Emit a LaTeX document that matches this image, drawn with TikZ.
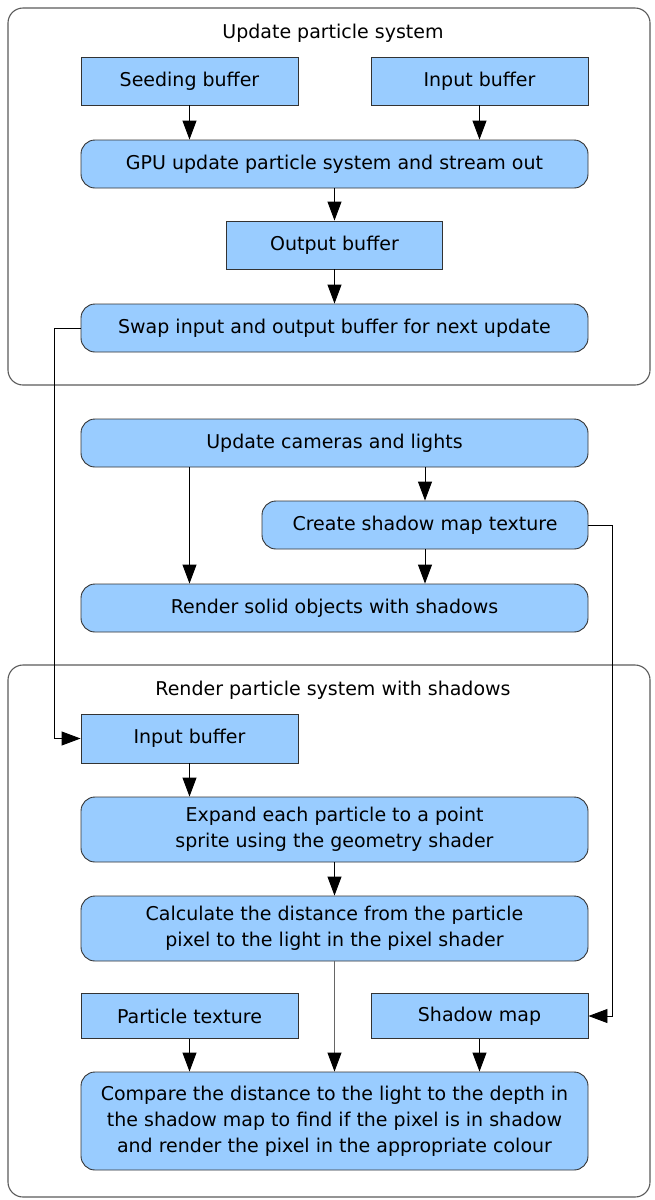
\documentclass[tikz,border=0pt]{standalone}
\usepackage{fontspec}
\setmainfont{DejaVu Sans}
\usetikzlibrary{arrows.meta}
\definecolor{boxblue}{RGB}{153,204,255}
\definecolor{framegray}{RGB}{90,90,90}
\tikzset{
  base/.style={draw=black!80, line width=0.9pt, fill=boxblue, align=center, inner sep=0pt,
    font=\fontsize{19}{26}\selectfont, text=black},
  sqbox/.style={base, minimum height=48pt},
  rbox/.style={base, rounded corners=14pt, minimum height=48pt},
  frame/.style={draw=framegray, line width=1.1pt, rounded corners=15pt},
  ftitle/.style={font=\fontsize{19}{26}\selectfont, text=black},
  conn/.style={draw=black, line width=0.9pt, -{Triangle[length=19pt,width=14pt]}},
  thinconn/.style={draw=black!60, line width=0.9pt, -{Triangle[length=19pt,width=14pt,color=black,fill=black]}}
}
\begin{document}
\begin{tikzpicture}[x=1pt,y=-1pt]
\useasboundingbox (0,0) rectangle (654,1200);
% frames
\draw[frame] (8,8) rectangle (650,385);
\draw[frame] (8,665) rectangle (650,1197);
\node[ftitle] (t1) at (333,33) {Update particle system};
\node[ftitle] (t2) at (333,690) {Render particle system with shadows};
% top group
\node[sqbox, minimum width=217pt] (seed) at (189.5,81) {Seeding buffer};
\node[sqbox, minimum width=217pt] (inb) at (479.5,81) {Input buffer};
\node[rbox, minimum width=507pt] (gpu) at (334.5,164) {GPU update particle system and stream out};
\node[sqbox, minimum width=216pt] (outb) at (334.5,245) {Output buffer};
\node[rbox, minimum width=507pt] (swap) at (334.5,328) {Swap input and output buffer for next update};
% middle
\node[rbox, minimum width=507pt] (cams) at (334.5,443) {Update cameras and lights};
\node[rbox, minimum width=326pt] (smt) at (425,525) {Create shadow map texture};
\node[rbox, minimum width=507pt] (solid) at (334.5,608) {Render solid objects with shadows};
% bottom group
\node[sqbox, minimum width=217pt, minimum height=49pt] (inb2) at (189.5,738.5) {Input buffer};
\node[rbox, minimum width=507pt, minimum height=65pt] (expand) at (334.5,829.5) {Expand each particle to a point\\sprite using the geometry shader};
\node[rbox, minimum width=507pt, minimum height=65pt] (calc) at (334.5,928.5) {Calculate the distance from the particle\\pixel to the light in the pixel shader};
\node[sqbox, minimum width=217pt, minimum height=45pt] (ptex) at (189.5,1016) {Particle texture};
\node[sqbox, minimum width=217pt, minimum height=45pt] (smap) at (479.5,1016) {Shadow map};
\node[rbox, minimum width=507pt, minimum height=98pt] (cmp) at (334.5,1121) {Compare the distance to the light to the depth in\\the shadow map to find if the pixel is in shadow\\and render the pixel in the appropriate colour};
% connectors
\draw[conn] (seed) -- (gpu.north -| seed);
\draw[conn] (inb) -- (gpu.north -| inb);
\draw[conn] (gpu) -- (outb);
\draw[conn] (outb) -- (swap);
\draw[conn] (swap.west) -- ++(-26,0) |- (inb2.west);
\draw[conn] (cams.south -| inb2) -- (solid.north -| inb2);
\draw[conn] (cams.south -| smt) -- (smt);
\draw[conn] (smt) -- (solid.north -| smt);
\draw[conn] (smt.east) -- ++(24,0) |- (smap.east);
\draw[conn] (inb2) -- (expand.north -| inb2);
\draw[conn] (expand) -- (calc);
\draw[thinconn] (calc) -- (cmp);
\draw[conn] (ptex) -- (cmp.north -| ptex);
\draw[conn] (smap) -- (cmp.north -| smap);
\end{tikzpicture}
\end{document}
